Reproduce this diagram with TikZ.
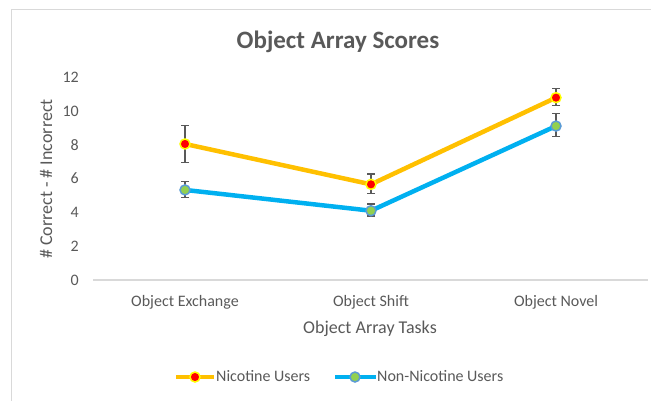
\documentclass[tikz,border=0pt]{standalone}
\usepackage{fontspec}
\setmainfont{Carlito}
\usetikzlibrary{arrows.meta}
\definecolor{txtgray}{HTML}{595959}
\definecolor{rulegray}{HTML}{D9D9D9}
\definecolor{nicyellow}{HTML}{FFC000}
\definecolor{nonblue}{HTML}{00B0F0}
\definecolor{markred}{HTML}{FF0000}
\definecolor{markring}{HTML}{FFFF00}
\definecolor{markgreen}{HTML}{92D050}
\definecolor{markedge}{HTML}{5B9BD5}

\tikzset{
	ticklabel/.style={text=txtgray,font=\fontsize{16}{19}\selectfont,inner sep=0pt},
	axistitle/.style={text=txtgray,font=\fontsize{18}{22}\selectfont,inner sep=0pt},
	errbar/.style={draw=txtgray,line width=1.4pt,{Bar[width=8pt]}-{Bar[width=8pt]}},
	nicline/.style={draw=nicyellow,line width=4.5pt,line join=round},
	nonline/.style={draw=nonblue,line width=4.5pt,line join=round},
	nicmark/.style={circle,fill=markred,draw=markring,line width=1.5pt,minimum size=10pt,inner sep=0pt},
	nonmark/.style={circle,fill=markgreen,draw=markedge,line width=1.5pt,minimum size=10pt,inner sep=0pt},
}

\begin{document}
\begin{tikzpicture}[x=1pt,y=-1pt]
	\useasboundingbox (0,0) rectangle (651,400);
	\clip (0,0) rectangle (651,400);
	\draw[rulegray,line width=1.2pt] (11.5,9.5) rectangle (700,450);

	\node[text=txtgray,font=\fontsize{25}{30}\selectfont\bfseries,inner sep=0pt,anchor=base] (title) at (338,48.5) {Object Array Scores};

	% value axis
	\foreach \v in {0,2,...,12}
		\node[ticklabel,anchor=east] (tick\v) at (79,{280-16.9*\v}) {\v};
	\coordinate (axisL) at (93,280);
	\coordinate (axisR) at (648,280);
	\draw[rulegray,line width=1.2pt] (axisL) -- (axisR);
	\node[axistitle,rotate=90] (ylabel) at (46,179) {\# Correct - \# Incorrect};

	% categories and data
	\foreach \i/\cx/\cat/\nv/\nh/\nl/\bv/\bh/\bl in {%
		1/185/Object Exchange/8.05/9.17/6.9/5.33/5.88/4.83,
		2/371/Object Shift/5.66/6.31/5.07/4.1/4.54/3.75,
		3/556/Object Novel/10.79/11.36/10.3/9.11/9.88/8.46}{
		\node[ticklabel,anchor=base] (cat\i) at (\cx,306) {\cat};
		\coordinate (nic\i) at (\cx,{280-16.9*\nv});
		\coordinate (nichi\i) at (\cx,{280-16.9*\nh});
		\coordinate (niclo\i) at (\cx,{280-16.9*\nl});
		\coordinate (non\i) at (\cx,{280-16.9*\bv});
		\coordinate (nonhi\i) at (\cx,{280-16.9*\bh});
		\coordinate (nonlo\i) at (\cx,{280-16.9*\bl});
		\draw[errbar] (niclo\i) -- (nichi\i);
		\draw[errbar] (nonlo\i) -- (nonhi\i);
	}
	\node[axistitle,anchor=base] (xlabel) at (370,333.5) {Object Array Tasks};

	\draw[nicline] (nic1) -- (nic2) -- (nic3);
	\draw[nonline] (non1) -- (non2) -- (non3);
	\foreach \i in {1,2,3}{
		\node[nicmark] (nicdot\i) at (nic\i) {};
		\node[nonmark] (nondot\i) at (non\i) {};
	}

	% legend
	\coordinate (nicA) at (176,377);
	\coordinate (nicB) at (214,377);
	\draw[nicline] (nicA) -- (nicB);
	\node[nicmark] (nickey) at (195,377) {};
	\node[ticklabel,anchor=base west] (nictxt) at (216,381.5) {Nicotine Users};
	\coordinate (nonA) at (335,377);
	\coordinate (nonB) at (376,377);
	\draw[nonline] (nonA) -- (nonB);
	\node[nonmark] (nonkey) at (355,377) {};
	\node[ticklabel,anchor=base west] (nontxt) at (377,381.5) {Non-Nicotine Users};
\end{tikzpicture}
\end{document}
